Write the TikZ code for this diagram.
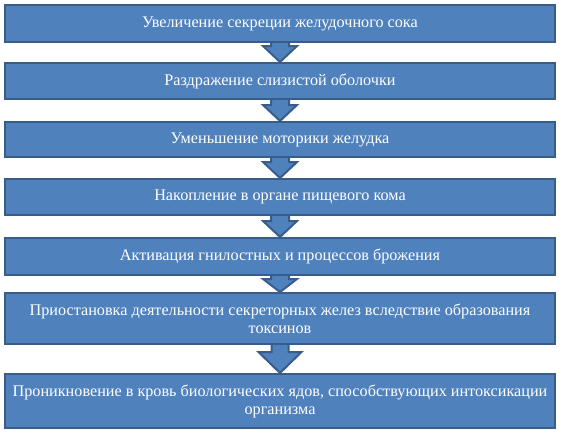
\documentclass[tikz,border=0pt]{standalone}
\usepackage{fontspec}
\setmainfont{Liberation Serif}
\usepackage{tikz}
\usepackage{xcolor}
\usetikzlibrary{calc,backgrounds}

\definecolor{boxfill}{HTML}{4F81BD}
\definecolor{boxline}{HTML}{385D8A}

\begin{document}
\begin{tikzpicture}[x=1pt,y=-1pt]
    \useasboundingbox (0,0) rectangle (561,434);
    \tikzstyle{every node}=[draw=boxline,line width=2pt,fill=boxfill,text=white,minimum width=550pt,inner sep=0pt,align=center,font=\fontsize{16.2}{18}\selectfont]
    \tikzstyle{arr}=[draw=boxline,line width=2pt,fill=boxfill,line join=miter]
    \node (1) at (280,23.5) [minimum height=37pt] {Увеличение секреции желудочного сока};
    \node (2) at (280,81) [minimum height=36pt] {Раздражение слизистой оболочки};
    \node (3) at (280,139.5) [minimum height=35pt] {Уменьшение моторики желудка};
    \node (4) at (280,197) [minimum height=36pt] {Накопление в органе пищевого кома};
    \node (5) at (280,256.5) [minimum height=37pt] {Активация гнилостных и процессов брожения};
    \node (6) at (280,318.5) [minimum height=51pt] {Приостановка деятельности секреторных желез вследствие образования\\токсинов};
    \node (7) at (280,401) [minimum height=54pt] {Проникновение в кровь биологических ядов, способствующих интоксикации\\организма};

    % block arrows between the boxes
    \begin{scope}[on background layer]
    \foreach \a/\b/\w/\H/\h in {1/2/9/17/16,2/3/9/17/16,3/4/9/17/16,4/5/9/17/16,5/6/9/17/13,6/7/8.5/21.5/21}{
        \draw[arr] ($(\a.south)+(-\w,-2)$) -- ($(\b.north)+(-\w,-\h)$) -- ($(\b.north)+(-\H,-\h)$)
            -- (\b.north) -- ($(\b.north)+(\H,-\h)$) -- ($(\b.north)+(\w,-\h)$) -- ($(\a.south)+(\w,-2)$) -- cycle;
    }
    \end{scope}
\end{tikzpicture}
\end{document}
